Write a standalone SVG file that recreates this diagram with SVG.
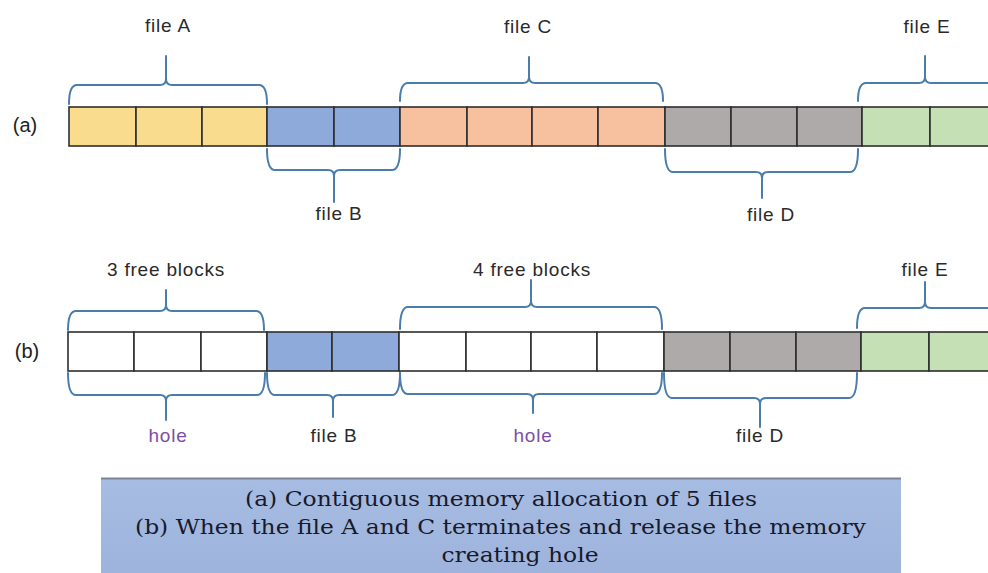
<svg xmlns="http://www.w3.org/2000/svg" width="988" height="573" viewBox="0 0 988 573">
<defs>
<linearGradient id="capg" x1="0" y1="0" x2="0" y2="1">
<stop offset="0" stop-color="#a7bce2"/>
<stop offset="1" stop-color="#9db3dc"/>
</linearGradient>
</defs>
<style>
.blk{stroke:#2e2e2e;stroke-width:1.6}
.y{fill:#fadc8e}.b{fill:#8eaadb}.o{fill:#f7c19f}.g{fill:#aeaaaa}.gr{fill:#c5e0b4}.w{fill:#ffffff}
.br{fill:none;stroke:#4a7dab;stroke-width:2;stroke-linecap:round}
.lbl{font-family:"Liberation Sans",Arial,sans-serif;font-size:19px;letter-spacing:0.8px;fill:#2a2a2a;text-anchor:middle}
.hole{fill:#7d4fa3}
.row{font-family:"Liberation Sans",Arial,sans-serif;font-size:20px;fill:#222;text-anchor:middle}
.cap{font-family:"DejaVu Serif","Liberation Serif",serif;font-size:20px;fill:#18192a;text-anchor:middle}
</style>
<rect width="988" height="573" fill="#ffffff"/>

<!-- Row (a) -->
<g id="row-a-label"><text class="row" x="25" y="132">(a)</text></g>
<g id="a-fileA">
<rect class="blk y" x="69" y="107" width="67" height="39"/>
<rect class="blk y" x="136" y="107" width="66" height="39"/>
<rect class="blk y" x="202" y="107" width="65" height="39"/>
<text class="lbl" x="168" y="32">file A</text>
</g>
<g id="a-fileB">
<rect class="blk b" x="267" y="107" width="67" height="39"/>
<rect class="blk b" x="334" y="107" width="66" height="39"/>
<text class="lbl" x="339" y="220">file B</text>
</g>
<g id="a-fileC">
<rect class="blk o" x="400" y="107" width="67" height="39"/>
<rect class="blk o" x="467" y="107" width="65" height="39"/>
<rect class="blk o" x="532" y="107" width="66" height="39"/>
<rect class="blk o" x="598" y="107" width="67" height="39"/>
<text class="lbl" x="528" y="33">file C</text>
</g>
<g id="a-fileD">
<rect class="blk g" x="665" y="107" width="66" height="39"/>
<rect class="blk g" x="731" y="107" width="66" height="39"/>
<rect class="blk g" x="797" y="107" width="65" height="39"/>
<text class="lbl" x="771" y="221">file D</text>
</g>
<g id="a-fileE">
<rect class="blk gr" x="862" y="107" width="68" height="39"/>
<rect class="blk gr" x="930" y="107" width="70" height="39"/>
<text class="lbl" x="927" y="33">file E</text>
</g>

<!-- Row (b) -->
<g id="row-b-label"><text class="row" x="27" y="358">(b)</text></g>
<g id="b-free3">
<rect class="blk w" x="68" y="332" width="66" height="39"/>
<rect class="blk w" x="134" y="332" width="67" height="39"/>
<rect class="blk w" x="201" y="332" width="66" height="39"/>
<text class="lbl" x="166" y="276">3 free blocks</text>
<text class="lbl hole" x="168" y="442">hole</text>
</g>
<g id="b-fileB">
<rect class="blk b" x="267" y="332" width="65" height="39"/>
<rect class="blk b" x="332" y="332" width="67" height="39"/>
<text class="lbl" x="334" y="442">file B</text>
</g>
<g id="b-free4">
<rect class="blk w" x="399" y="332" width="67" height="39"/>
<rect class="blk w" x="466" y="332" width="65" height="39"/>
<rect class="blk w" x="531" y="332" width="66" height="39"/>
<rect class="blk w" x="597" y="332" width="67" height="39"/>
<text class="lbl" x="532" y="276">4 free blocks</text>
<text class="lbl hole" x="533" y="442">hole</text>
</g>
<g id="b-fileD">
<rect class="blk g" x="664" y="332" width="66" height="39"/>
<rect class="blk g" x="730" y="332" width="66" height="39"/>
<rect class="blk g" x="796" y="332" width="65" height="39"/>
<text class="lbl" x="760" y="442">file D</text>
</g>
<g id="b-fileE">
<rect class="blk gr" x="861" y="332" width="68" height="39"/>
<rect class="blk gr" x="929" y="332" width="71" height="39"/>
<text class="lbl" x="925" y="276">file E</text>
</g>

<!-- Braces -->
<g id="connectors">
<path class="br" d="M69,104 Q69,85 77,85 L160,85 Q166,85 166,79 L166,56 M166,79 Q166,85 172,85 L259,85 Q267,85 267,104"/>
<path class="br" d="M400,101 Q400,83 408,83 L523,83 Q529,83 529,77 L529,57 M529,77 Q529,83 535,83 L655,83 Q663,83 663,101"/>
<path class="br" d="M858,101 Q858,83 866,83 L919,83 Q925,83 925,77 L925,56 M925,77 Q925,83 931,83 L995,83"/>
<path class="br" d="M267,149 Q267,170 275,170 L328,170 Q334,170 334,176 L334,202 M334,176 Q334,170 340,170 L392,170 Q400,170 400,149"/>
<path class="br" d="M665,149 Q665,172 673,172 L756,172 Q762,172 762,178 L762,198 M762,178 Q762,172 768,172 L850,172 Q858,172 858,149"/>
<path class="br" d="M68,330 Q68,311 76,311 L160,311 Q166,311 166,305 L166,290 M166,305 Q166,311 172,311 L256,311 Q264,311 264,330"/>
<path class="br" d="M400,329 Q400,307 408,307 L525,307 Q531,307 531,301 L531,280 M531,301 Q531,307 537,307 L654,307 Q662,307 662,329"/>
<path class="br" d="M857,328 Q857,308 865,308 L919,308 Q925,308 925,302 L925,282 M925,302 Q925,308 931,308 L995,308"/>
<path class="br" d="M68,373 Q68,395 76,395 L160,395 Q166,395 166,401 L166,420 M166,401 Q166,395 172,395 L257,395 Q265,395 265,373"/>
<path class="br" d="M267,373 Q267,395 275,395 L327,395 Q333,395 333,401 L333,417 M333,401 Q333,395 339,395 L392,395 Q400,395 400,373"/>
<path class="br" d="M400,373 Q400,394 408,394 L527,394 Q533,394 533,400 L533,413 M533,400 Q533,394 539,394 L654,394 Q662,394 662,373"/>
<path class="br" d="M664,373 Q664,398 672,398 L754,398 Q760,398 760,404 L760,427 M760,404 Q760,398 766,398 L849,398 Q857,398 857,373"/>
</g>

<!-- Caption -->
<g id="caption">
<rect x="101" y="478" width="800" height="100" fill="url(#capg)"/>
<line x1="101" y1="478.5" x2="901" y2="478.5" stroke="#7b8594" stroke-width="2"/>
<text class="cap" x="501" y="506" textLength="512" lengthAdjust="spacingAndGlyphs">(a) Contiguous memory allocation of 5 files</text>
<text class="cap" x="500.5" y="534" textLength="731" lengthAdjust="spacingAndGlyphs">(b) When the file A and C terminates and release the memory</text>
<text class="cap" x="520" y="562" textLength="157" lengthAdjust="spacingAndGlyphs">creating hole</text>
</g>
</svg>
